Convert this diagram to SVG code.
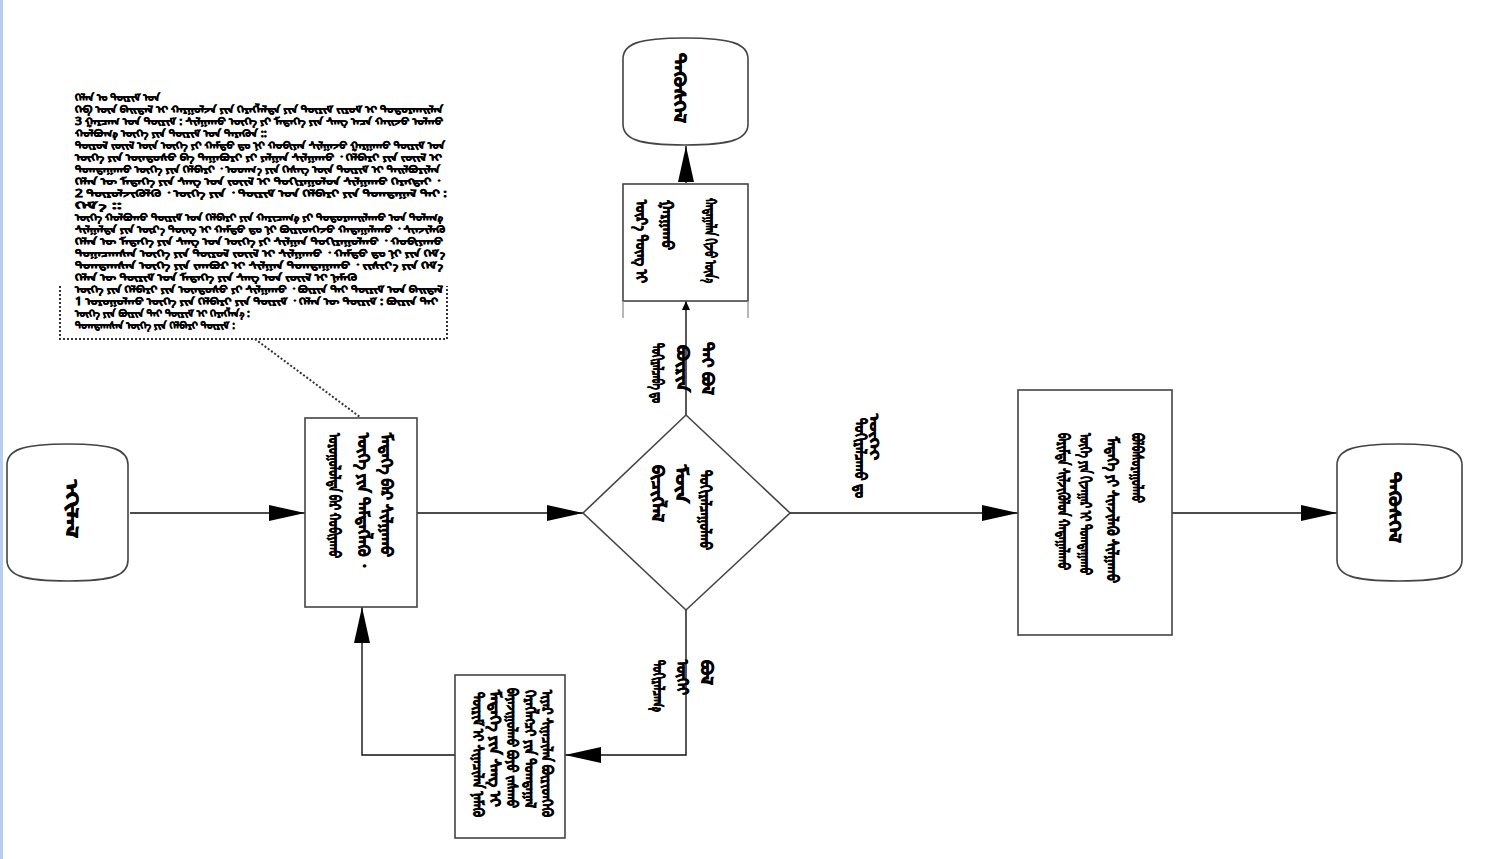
<svg xmlns="http://www.w3.org/2000/svg" width="1500" height="859" viewBox="0 0 1500 859">
<defs>
<style>
.shape{fill:#fff;stroke:#444;stroke-width:1.6}
.conn{fill:none;stroke:#111;stroke-width:1.4}
.dot{fill:none;stroke:#333;stroke-width:2;stroke-dasharray:2 2}
.m{font-family:"Noto Sans Mongolian","Noto Sans","DejaVu Sans",sans-serif;font-size:16px;font-weight:bold;fill:#000;stroke:#000;stroke-width:0.7}
.s{font-size:15px}
.a{font-family:"Noto Sans Mongolian","Noto Sans","DejaVu Sans",sans-serif;font-size:10px;font-weight:bold;fill:#000;stroke:#000;stroke-width:0.45}
</style>
<marker id="ah" markerUnits="userSpaceOnUse" markerWidth="36" markerHeight="18" refX="36" refY="8" orient="auto"><path d="M0,0 L36,8 L0,16 Z" fill="#000"/></marker>
<marker id="as" markerUnits="userSpaceOnUse" markerWidth="10" markerHeight="10" refX="9" refY="4" orient="auto"><path d="M0,0 L9,4 L0,8 Z" fill="#000"/></marker>
</defs>
<rect width="1500" height="859" fill="#fff"/>
<rect x="0" y="0" width="3" height="859" fill="#b5cff0"/>

<g id="connectors">
<line class="conn" x1="130" y1="513" x2="305" y2="513" marker-end="url(#ah)"/>
<line class="conn" x1="417" y1="513" x2="583" y2="513" marker-end="url(#ah)"/>
<line class="conn" x1="790" y1="513" x2="1018" y2="513" marker-end="url(#ah)"/>
<line class="conn" x1="1172" y1="513" x2="1337" y2="513" marker-end="url(#ah)"/>
<line class="conn" x1="686" y1="415" x2="686" y2="301" stroke="#777" marker-end="url(#as)"/>
<line class="conn" x1="686" y1="183" x2="686" y2="146" marker-end="url(#ah)"/>
<polyline class="conn" points="686,610 686,755 565,755" marker-end="url(#ah)"/>
<polyline class="conn" points="455,755 362,755 362,607" marker-end="url(#ah)"/>
<line class="dot" x1="255" y1="339" x2="360" y2="417" stroke-width="1.2"/>
</g>

<g id="start">
<path class="shape" d="M7,465 C7,450 22,444 68,444 C114,444 128,450 128,465 L128,560 C128,575 114,581 68,581 C22,581 7,575 7,560 Z"/>
<text class="m" transform="translate(66,480) rotate(90)" textLength="58" lengthAdjust="spacingAndGlyphs">ᠡᠬᠢᠯᠡᠯ</text>
</g>

<g id="process">
<rect class="shape" x="305" y="418" width="112" height="189"/>
<text class="m" transform="translate(328.5,433) rotate(90)" textLength="125" lengthAdjust="spacingAndGlyphs">ᠤᠷᠤᠭᠤᠯᠤᠯᠲᠠ ᠪᠠᠷ ᠬᠤᠪᠢᠶᠠᠬᠤ</text>
<text class="m" transform="translate(357.5,433) rotate(90)" textLength="134" lengthAdjust="spacingAndGlyphs">ᠦᠭᠡ ᠶᠢᠨ ᠲᠡᠮᠳᠡᠭᠯᠡᠬᠦ ᠂</text>
<text class="m" transform="translate(380.5,433) rotate(90)" textLength="124" lengthAdjust="spacingAndGlyphs">ᠮᠡᠳᠡᠭᠡ ᠪᠠᠷ ᠰᠢᠯᠭᠠᠬᠤ</text>
</g>

<g id="annotation">
<polyline class="dot" points="60,286 60,339 447,339 447,286"/>
<text class="a" x="75" y="101" textLength="85" lengthAdjust="spacingAndGlyphs">ᠬᠡᠯᠡᠨ ᠤ ᠳᠦᠷᠢᠮ ᠤᠨ</text>
<text class="a" x="75" y="113" textLength="368" lengthAdjust="spacingAndGlyphs">ᠬᠡᠪ ᠦᠨ ᠪᠠᠢᠳᠠᠯ ᠢ ᠬᠠᠷᠭᠤᠯᠵᠠ ᠶᠢᠨ ᠬᠡᠷᠡᠭᠯᠡᠯᠳᠡ ᠶᠢᠨ ᠳᠦᠷᠢᠮ ᠵᠢᠷᠤᠮ ᠢ ᠲᠣᠳᠣᠷᠬᠠᠢᠯᠠᠨ</text>
<text class="a" x="75" y="125" textLength="368" lengthAdjust="spacingAndGlyphs">3 ᠭᠠᠷᠴᠠᠭ ᠤᠨ ᠳᠦᠷᠢᠮ : ᠰᠢᠯᠭᠠᠬᠤ ᠦᠭᠡ ᠶᠢ ᠮᠡᠳᠡᠭᠡ ᠶᠢᠨ ᠰᠠᠩ ᠠᠴᠠ ᠬᠠᠢᠵᠤ ᠣᠯᠬᠤ</text>
<text class="a" x="75" y="137" textLength="192" lengthAdjust="spacingAndGlyphs">ᠬᠣᠯᠪᠣᠭ᠎ᠠ ᠦᠭᠡ ᠶᠢᠨ ᠳᠦᠷᠢᠮ ᠤᠨ ᠲᠡᠷᠡᠭᠦᠨ ::</text>
<text class="a" x="75" y="149" textLength="370" lengthAdjust="spacingAndGlyphs">ᠲᠦᠷᠦᠯ ᠵᠦᠢᠯ ᠦᠨ ᠦᠭᠡ ᠶᠢ ᠬᠠᠮᠲᠤ ᠳᠤ ᠨᠢ ᠬᠤᠪᠢᠶᠠᠨ ᠰᠢᠯᠭᠠᠵᠤ ᠭᠠᠷᠭᠠᠬᠤ ᠳᠦᠷᠢᠮ ᠤᠨ</text>
<text class="a" x="75" y="161" textLength="367" lengthAdjust="spacingAndGlyphs">ᠦᠭᠡ ᠶᠢᠨ ᠦᠨᠳᠦᠰᠦ ᠪᠠ ᠳᠠᠭᠠᠪᠤᠷᠢ ᠶᠢ ᠶᠠᠯᠭᠠᠨ ᠰᠢᠯᠭᠠᠬᠤ ᠂ ᠬᠡᠯᠪᠡᠷᠢ ᠶᠢᠨ ᠵᠦᠢᠯ ᠢ</text>
<text class="a" x="75" y="173" textLength="365" lengthAdjust="spacingAndGlyphs">ᠲᠣᠭᠲᠠᠭᠠᠬᠤ ᠦᠭᠡ ᠶᠢᠨ ᠬᠡᠯᠪᠡᠷᠢ ᠂ ᠤᠳᠬ᠎ᠠ ᠶᠢᠨ ᠬᠡᠰᠡᠭ ᠦᠨ ᠳᠦᠷᠢᠮ ᠢ ᠲᠠᠢᠯᠪᠤᠷᠢᠯᠠᠨ</text>
<text class="a" x="75" y="185" textLength="365" lengthAdjust="spacingAndGlyphs">ᠬᠡᠯᠡᠨ ᠦ ᠮᠡᠳᠡᠭᠡ ᠶᠢᠨ ᠰᠠᠩ ᠤᠨ ᠵᠦᠢᠯ ᠢ ᠲᠣᠬᠢᠷᠠᠭᠤᠯᠤᠨ ᠰᠢᠯᠭᠠᠬᠤ ᠬᠡᠷᠡᠭᠲᠡᠢ ᠂</text>
<text class="a" x="75" y="197" textLength="372" lengthAdjust="spacingAndGlyphs">2 ᠲᠦᠷᠦᠯᠵᠢᠭᠦᠯᠬᠦ ᠂ ᠦᠭᠡ ᠶᠢᠨ ᠂ ᠳᠦᠷᠢᠮ ᠤᠨ ᠬᠡᠯᠪᠡᠷᠢ ᠶᠢᠨ ᠲᠣᠭᠲᠠᠭᠠᠯ ᠲᠠᠢ :</text>
<text class="a" x="75" y="209" textLength="47" lengthAdjust="spacingAndGlyphs">ᠬᠡᠮ᠎ᠡ ::</text>
<text class="a" x="75" y="221" textLength="368" lengthAdjust="spacingAndGlyphs">ᠦᠭᠡ ᠬᠣᠯᠪᠣᠬᠤ ᠳᠦᠷᠢᠮ ᠤᠨ ᠬᠡᠯᠪᠡᠷᠢ ᠶᠢᠨ ᠬᠠᠷᠢᠴᠠᠭ᠎ᠠ ᠶᠢ ᠲᠣᠳᠣᠷᠬᠠᠢᠯᠠᠬᠤ ᠤᠨ ᠲᠤᠯᠠᠭ᠎ᠠ</text>
<text class="a" x="75" y="233" textLength="370" lengthAdjust="spacingAndGlyphs">ᠰᠢᠯᠭᠠᠯᠲᠠ ᠶᠢᠨ ᠦᠷ᠎ᠡ ᠳᠦᠩ ᠢ ᠬᠠᠮᠲᠤ ᠳᠤ ᠨᠢ ᠪᠦᠷᠢᠳᠬᠡᠵᠦ ᠬᠠᠳᠠᠭᠠᠯᠠᠬᠤ ᠂ ᠰᠢᠨᠵᠢᠯᠡᠬᠦ</text>
<text class="a" x="75" y="245" textLength="368" lengthAdjust="spacingAndGlyphs">ᠬᠡᠯᠡᠨ ᠦ ᠮᠡᠳᠡᠭᠡ ᠶᠢᠨ ᠰᠠᠩ ᠤᠨ ᠦᠭᠡ ᠶᠢ ᠰᠢᠯᠭᠠᠨ ᠲᠣᠬᠢᠷᠠᠭᠤᠯᠬᠤ ᠂ ᠬᠤᠪᠢᠶᠠᠬᠤ</text>
<text class="a" x="75" y="257" textLength="370" lengthAdjust="spacingAndGlyphs">ᠲᠣᠭᠠᠴᠠᠭᠰᠠᠨ ᠦᠭᠡ ᠶᠢᠨ ᠲᠦᠷᠦᠯ ᠵᠦᠢᠯ ᠢ ᠰᠢᠯᠭᠠᠬᠤ ᠂ ᠬᠠᠮᠲᠤ ᠳᠤ ᠨᠢ ᠶᠢᠨ ᠬᠡᠮ᠎ᠡ</text>
<text class="a" x="75" y="269" textLength="368" lengthAdjust="spacingAndGlyphs">ᠲᠣᠭᠲᠠᠭᠰᠠᠨ ᠦᠭᠡ ᠶᠢᠨ ᠵᠠᠭᠪᠤᠷ ᠢ ᠰᠢᠯᠭᠠᠨ ᠲᠣᠭᠲᠠᠭᠠᠬᠤ ᠂ ᠵᠢᠱᠢᠶ᠎ᠠ ᠶᠢᠨ ᠬᠡᠮ᠎ᠡ</text>
<text class="a" x="75" y="281" textLength="282" lengthAdjust="spacingAndGlyphs">ᠬᠡᠯᠡᠨ ᠦ ᠳᠦᠷᠢᠮ ᠤᠨ ᠮᠡᠳᠡᠭᠡ ᠶᠢᠨ ᠰᠠᠩ ᠤᠨ ᠵᠦᠢᠯ ᠢ ᠨᠡᠮᠡᠬᠦ</text>
<text class="a" x="75" y="293" textLength="368" lengthAdjust="spacingAndGlyphs">ᠦᠭᠡ ᠶᠢᠨ ᠬᠡᠯᠪᠡᠷᠢ ᠶᠢᠨ ᠦᠨᠳᠦᠰᠦ ᠶᠢ ᠰᠢᠯᠭᠠᠬᠤ ᠂ ᠪᠦᠷᠢᠨ ᠲᠡᠢ ᠳᠦᠷᠢᠮ ᠤᠨ ᠪᠠᠢᠳᠠᠯ</text>
<text class="a" x="75" y="305" textLength="363" lengthAdjust="spacingAndGlyphs">1 ᠤᠷᠤᠭᠤᠯᠬᠤ ᠦᠭᠡ ᠶᠢᠨ ᠬᠡᠯᠪᠡᠷᠢ ᠶᠢᠨ ᠳᠦᠷᠢᠮ ᠂ ᠬᠡᠯᠡᠨ ᠦ ᠳᠦᠷᠢᠮ : ᠪᠦᠷᠢᠨ ᠲᠡᠢ</text>
<text class="a" x="75" y="317" textLength="175" lengthAdjust="spacingAndGlyphs">ᠦᠭᠡ ᠶᠢᠨ ᠪᠦᠷᠢᠨ ᠲᠡᠢ ᠳᠦᠷᠢᠮ ᠢ ᠬᠡᠷᠡᠭᠯᠡᠨ᠎ᠡ :</text>
<text class="a" x="75" y="329" textLength="160" lengthAdjust="spacingAndGlyphs">ᠲᠣᠭᠲᠠᠭᠰᠠᠨ ᠦᠭᠡ ᠶᠢᠨ ᠬᠡᠯᠪᠡᠷᠢ ᠳᠦᠷᠢᠮ :</text>
</g>

<g id="decision">
<polygon class="shape" points="583,513 686,415 790,513 686,610"/>
<text class="m" transform="translate(651.5,465) rotate(90)" textLength="57" lengthAdjust="spacingAndGlyphs">ᠪᠢᠴᠢᠭᠯᠡᠯ</text>
<text class="m" transform="translate(675.5,465) rotate(90)" textLength="38" lengthAdjust="spacingAndGlyphs">ᠮᠦᠨ</text>
<text class="m" transform="translate(699.5,470) rotate(90)" textLength="80" lengthAdjust="spacingAndGlyphs">ᠲᠣᠬᠢᠷᠠᠯᠴᠠᠭᠤᠯᠬᠤ</text>
</g>

<g id="label-up">
<text class="m" transform="translate(651.5,343) rotate(90)" textLength="60" lengthAdjust="spacingAndGlyphs">ᠲᠣᠬᠢᠷᠠᠯᠴᠠᠪᠠ ᠳᠤ</text>
<text class="m" transform="translate(676.5,345) rotate(90)" textLength="47" lengthAdjust="spacingAndGlyphs">ᠪᠦᠷᠢᠨ</text>
<text class="m" transform="translate(701.5,342) rotate(90)" textLength="53" lengthAdjust="spacingAndGlyphs">ᠲᠡᠢ ᠪᠣᠯ</text>
</g>

<g id="box-up">
<rect class="shape" x="623" y="184" width="125" height="117"/>
<line x1="623" y1="301" x2="623" y2="318" stroke="#999" stroke-width="1.4"/>
<line x1="748" y1="301" x2="748" y2="318" stroke="#999" stroke-width="1.4"/>
<text class="m" transform="translate(635.5,200) rotate(90)" textLength="83" lengthAdjust="spacingAndGlyphs">ᠦᠷ᠎ᠡ ᠳᠦᠩ ᠢ</text>
<text class="m" transform="translate(661.5,200) rotate(90)" textLength="50" lengthAdjust="spacingAndGlyphs">ᠭᠠᠷᠭᠠᠬᠤ</text>
<text class="m" transform="translate(704.5,198) rotate(90)" textLength="85" lengthAdjust="spacingAndGlyphs">ᠬᠠᠳᠠᠭᠠᠯᠠᠨ ᠬᠢᠵᠦ ᠦᠨ᠎ᠡ</text>
</g>

<g id="end-top">
<path class="shape" d="M623,59 C623,44 638,38 685,38 C732,38 748,44 748,59 L748,124 C748,139 732,145 685,145 C638,145 623,139 623,124 Z"/>
<text class="m" transform="translate(673.5,53) rotate(90)" textLength="70" lengthAdjust="spacingAndGlyphs">ᠲᠡᠭᠦᠰᠬᠡᠯ</text>
</g>

<g id="label-down">
<text class="m" transform="translate(652.5,660) rotate(90)" textLength="52" lengthAdjust="spacingAndGlyphs">ᠲᠣᠬᠢᠷᠠᠯᠴᠠᠭ᠎ᠠ</text>
<text class="m" transform="translate(676.5,660) rotate(90)" textLength="35" lengthAdjust="spacingAndGlyphs">ᠦᠭᠡᠢ</text>
<text class="m" transform="translate(700.5,660) rotate(90)" textLength="25" lengthAdjust="spacingAndGlyphs">ᠪᠣᠯ</text>
</g>

<g id="box-down">
<rect class="shape" x="455" y="675" width="110" height="163"/>
<text class="m s" transform="translate(473,692) rotate(90)" textLength="125" lengthAdjust="spacingAndGlyphs">ᠳᠦᠷᠢᠮ ᠢ ᠰᠢᠨᠡᠴᠢᠯᠡᠨ ᠨᠡᠮᠡᠬᠦ</text>
<text class="m s" transform="translate(490,690) rotate(90)" textLength="117" lengthAdjust="spacingAndGlyphs">ᠮᠡᠳᠡᠭᠡ ᠶᠢᠨ ᠰᠠᠩ ᠢ</text>
<text class="m s" transform="translate(507,688) rotate(90)" textLength="120" lengthAdjust="spacingAndGlyphs">ᠪᠠᠶᠠᠵᠢᠭᠤᠯᠬᠤ ᠪᠤᠶᠤ ᠵᠠᠰᠠᠬᠤ</text>
<text class="m s" transform="translate(525,690) rotate(90)" textLength="118" lengthAdjust="spacingAndGlyphs">ᠬᠡᠷᠡᠭᠯᠡᠭᠴᠢ ᠶᠢᠨ ᠲᠣᠭᠲᠠᠭᠠᠯ</text>
<text class="m s" transform="translate(542,690) rotate(90)" textLength="127" lengthAdjust="spacingAndGlyphs">ᠢᠶᠠᠷ ᠰᠢᠨᠡᠴᠢᠯᠡᠨ ᠪᠦᠷᠢᠳᠬᠡᠬᠦ</text>
</g>

<g id="label-right">
<text class="m" transform="translate(855,418) rotate(90)" textLength="80" lengthAdjust="spacingAndGlyphs">ᠲᠣᠬᠢᠷᠠᠯᠴᠠᠬᠤ ᠳᠤ</text>
<text class="m" style="font-size:12px" transform="translate(870,414) rotate(90)" textLength="46" lengthAdjust="spacingAndGlyphs">ᠦᠭᠡᠢ</text>
</g>

<g id="box-right">
<rect class="shape" x="1018" y="390" width="154" height="245"/>
<text class="m" transform="translate(1057.5,433) rotate(90)" textLength="137" lengthAdjust="spacingAndGlyphs">ᠪᠠᠷᠢᠮᠲᠠ ᠰᠢᠯᠵᠢᠬᠦᠯᠦᠨ ᠬᠠᠳᠠᠭᠠᠯᠠᠬᠤ</text>
<text class="m" transform="translate(1079.5,433) rotate(90)" textLength="142" lengthAdjust="spacingAndGlyphs">ᠦᠭᠡ ᠶᠢᠨ ᠬᠢᠵᠠᠭᠠᠷ ᠢ ᠲᠣᠭᠲᠠᠭᠠᠬᠤ</text>
<text class="m" transform="translate(1106.5,437) rotate(90)" textLength="146" lengthAdjust="spacingAndGlyphs">ᠮᠡᠳᠡᠭᠡ ᠶᠢ ᠰᠢᠨᠵᠢᠯᠡᠬᠦ ᠰᠢᠯᠭᠠᠬᠤ</text>
<text class="m" transform="translate(1131.5,433) rotate(90)" textLength="70" lengthAdjust="spacingAndGlyphs">ᠪᠣᠯᠪᠠᠰᠤᠷᠠᠭᠤᠯᠬᠤ</text>
</g>

<g id="end-right">
<path class="shape" d="M1337,465 C1337,450 1352,444 1399,444 C1446,444 1462,450 1462,465 L1462,560 C1462,575 1446,581 1399,581 C1352,581 1337,575 1337,560 Z"/>
<text class="m" transform="translate(1388.5,472) rotate(90)" textLength="71" lengthAdjust="spacingAndGlyphs">ᠲᠡᠭᠦᠰᠬᠡᠯ</text>
</g>
</svg>
